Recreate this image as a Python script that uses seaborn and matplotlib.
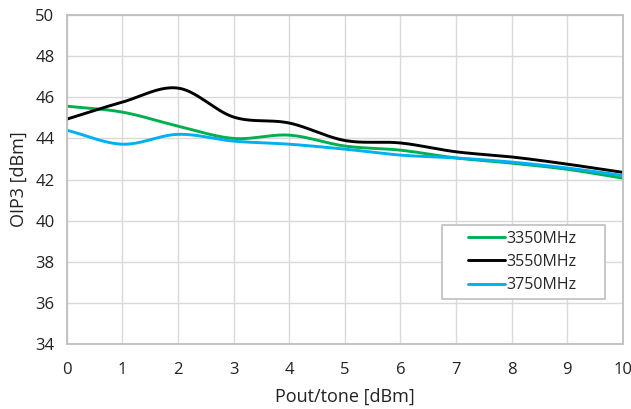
import numpy as np
import pandas as pd
import matplotlib
matplotlib.use("Agg")
import matplotlib.pyplot as plt
from matplotlib.patches import Rectangle
import seaborn as sns

pout = [0, 1, 2, 3, 4, 5, 6, 7, 8, 9, 10]
oip3_3350 = [45.57, 45.28, 44.60, 44.00, 44.16, 43.63, 43.43, 43.05, 42.80, 42.50, 42.07]
oip3_3550 = [44.94, 45.77, 46.45, 45.04, 44.75, 43.90, 43.78, 43.35, 43.10, 42.75, 42.35]
oip3_3750 = [44.40, 43.72, 44.20, 43.87, 43.72, 43.48, 43.19, 43.05, 42.85, 42.56, 42.20]
series_names = ["3350MHz", "3550MHz", "3750MHz"]
colors = ["#00b050", "#000000", "#00b0f0"]


def smooth(x, y, n=30):
    """Catmull-Rom smoothing through the given points (like a spreadsheet smoothed line)."""
    x = np.asarray(x, float)
    y = np.asarray(y, float)
    px = np.concatenate([[2 * x[0] - x[1]], x, [2 * x[-1] - x[-2]]])
    py = np.concatenate([[2 * y[0] - y[1]], y, [2 * y[-1] - y[-2]]])
    xs, ys = [], []
    t = np.linspace(0, 1, n, endpoint=False)
    for i in range(1, len(px) - 2):
        p0, p1, p2, p3 = py[i - 1], py[i], py[i + 1], py[i + 2]
        ys.append(0.5 * ((2 * p1) + (-p0 + p2) * t + (2 * p0 - 5 * p1 + 4 * p2 - p3) * t ** 2
                         + (-p0 + 3 * p1 - 3 * p2 + p3) * t ** 3))
        xs.append(px[i] + (px[i + 1] - px[i]) * t)
    xs.append([x[-1]])
    ys.append([y[-1]])
    return np.concatenate(xs), np.concatenate(ys)


frames = []
for name, vals in zip(series_names, [oip3_3350, oip3_3550, oip3_3750]):
    sx, sy = smooth(pout, vals)
    frames.append(pd.DataFrame({"pout": sx, "oip3": sy, "freq": name}))
df = pd.concat(frames, ignore_index=True)

sns.set_theme(style="whitegrid")
plt.rcParams["font.family"] = ["Open Sans", "DejaVu Sans"]

fig = plt.figure(figsize=(6.31, 4.09), dpi=100)
ax = fig.add_axes([0.106, 0.159, 0.881, 0.804])

sns.lineplot(data=df, x="pout", y="oip3", hue="freq", palette=colors,
             hue_order=series_names, linewidth=2.1, ax=ax, sort=False, estimator=None)

ax.set_xlim(0, 10)
ax.set_ylim(34, 50)
ax.set_xticks(range(0, 11))
ax.set_yticks(range(34, 51, 2))
ax.grid(True, color="#d9d9d9", linewidth=1.0)
for s in ax.spines.values():
    s.set_color("#bfbfbf")
    s.set_linewidth(1.3)
ax.tick_params(axis="x", labelsize=12, colors="#222222", length=0, pad=13)
ax.tick_params(axis="y", labelsize=12, colors="#222222", length=0, pad=9)
ax.set_xlabel("Pout/tone [dBm]", fontsize=13, color="#222222", labelpad=7)
ax.set_ylabel("OIP3 [dBm]", fontsize=13, color="#222222", labelpad=5)

# legend box with spreadsheet-style padding
ax.add_patch(Rectangle((0.674, 0.137), 0.294, 0.225, transform=ax.transAxes,
                       facecolor="white", edgecolor="#bfbfbf", linewidth=1.2, zorder=5))
leg = ax.legend(loc="center left", bbox_to_anchor=(0.722, 0.2495), fontsize=11.5,
                frameon=False, handlelength=2.3, handletextpad=0.1, borderpad=0,
                labelspacing=0.45, borderaxespad=0)
leg.set_zorder(6)
for line in leg.get_lines():
    line.set_linewidth(2.1)

fig.savefig("out.png", dpi=100)
